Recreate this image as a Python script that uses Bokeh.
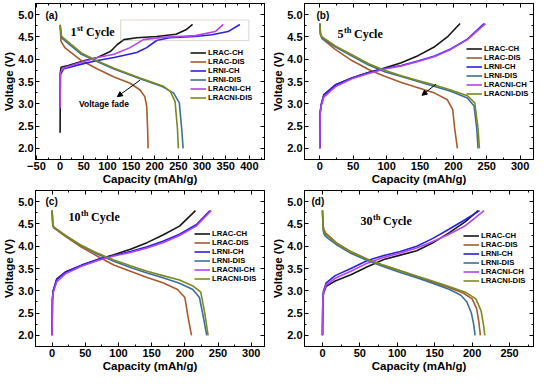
from bokeh.plotting import figure
from bokeh.layouts import gridplot
from bokeh.models import (Range1d, LinearAxis, SingleIntervalTicker, Legend, LegendItem,
                          Label, Arrow, NormalHead, PrintfTickFormatter, BoxAnnotation,
                          CustomJSTickFormatter)
from bokeh.embed import file_html
from bokeh.resources import INLINE

SERIES = ["LRAC-CH", "LRAC-DIS", "LRNI-CH", "LRNI-DIS", "LRACNI-CH", "LRACNI-DIS"]
COLORS = ["#161616", "#a85a2c", "#2c1fe0", "#3a6e9c", "#b044f2", "#7b8a1c"]

# ---- Panel (a): 1st cycle ----
a_LRAC_CH_x = [0, 0.5, 2, 17, 52, 79, 107, 121, 135, 162, 204, 245, 266, 280]
a_LRAC_CH_y = [2.35, 3.7, 3.82, 3.86, 3.97, 4.04, 4.18, 4.33, 4.44, 4.48, 4.51, 4.56, 4.66, 4.78]
a_LRAC_DIS_x = [0, 2, 10, 45, 79, 114, 148, 169, 179, 183, 185, 186]
a_LRAC_DIS_y = [4.77, 4.4, 4.26, 3.97, 3.78, 3.6, 3.46, 3.31, 3.16, 2.95, 2.44, 2.0]
a_LRNI_CH_x = [0, 0.5, 7, 45, 79, 114, 162, 183, 204, 231, 286, 321, 355, 380]
a_LRNI_CH_y = [2.9, 3.65, 3.78, 3.89, 3.97, 4.04, 4.15, 4.26, 4.42, 4.48, 4.51, 4.55, 4.62, 4.78]
a_LRNI_DIS_x = [0, 3, 45, 79, 114, 169, 217, 240, 252, 257, 260]
a_LRNI_DIS_y = [4.77, 4.48, 4.11, 3.94, 3.78, 3.56, 3.38, 3.24, 3.02, 2.44, 2.0]
a_LRACNI_CH_x = [0, 0.5, 7, 45, 79, 114, 148, 176, 217, 286, 328, 345]
a_LRACNI_CH_y = [2.9, 3.7, 3.8, 3.93, 4.04, 4.11, 4.26, 4.44, 4.49, 4.53, 4.62, 4.78]
a_LRACNI_DIS_x = [0, 3, 45, 79, 114, 169, 217, 233, 243, 248, 250]
a_LRACNI_DIS_y = [4.77, 4.51, 4.14, 3.96, 3.8, 3.58, 3.4, 3.28, 3.05, 2.44, 2.0]

# ---- Panel (b): 5th cycle ----
b_LRAC_CH_x = [0, 0.5, 2, 6, 23, 48, 73, 97, 122, 147, 172, 191, 210]
b_LRAC_CH_y = [2.0, 2.8, 2.98, 3.2, 3.42, 3.58, 3.7, 3.8, 3.92, 4.08, 4.28, 4.5, 4.8]
b_LRAC_DIS_x = [0, 1, 3.5, 23, 48, 73, 97, 122, 147, 172, 191, 199, 202, 206]
b_LRAC_DIS_y = [4.8, 4.55, 4.46, 4.22, 3.97, 3.77, 3.62, 3.48, 3.36, 3.24, 3.09, 2.87, 2.44, 2.0]
b_LRNI_CH_x = [0, 0.5, 2, 6, 23, 48, 73, 97, 122, 147, 172, 196, 221, 246]
b_LRNI_CH_y = [2.0, 2.8, 2.98, 3.2, 3.42, 3.58, 3.7, 3.79, 3.86, 3.96, 4.07, 4.23, 4.45, 4.8]
b_LRNI_DIS_x = [0, 1, 3.5, 23, 48, 73, 97, 122, 147, 172, 196, 221, 231, 235, 237]
b_LRNI_DIS_y = [4.8, 4.55, 4.47, 4.28, 4.07, 3.87, 3.72, 3.61, 3.5, 3.39, 3.28, 3.13, 2.95, 2.44, 2.0]
b_LRACNI_CH_x = [0, 0.5, 2, 6, 23, 48, 73, 97, 122, 147, 172, 196, 221, 248]
b_LRACNI_CH_y = [2.0, 2.8, 2.95, 3.15, 3.38, 3.56, 3.68, 3.78, 3.85, 3.95, 4.06, 4.22, 4.44, 4.8]
b_LRACNI_DIS_x = [0, 1, 3.5, 23, 48, 73, 97, 122, 147, 172, 196, 221, 232, 237, 239]
b_LRACNI_DIS_y = [4.8, 4.56, 4.5, 4.3, 4.1, 3.9, 3.75, 3.63, 3.52, 3.42, 3.31, 3.18, 3.02, 2.44, 2.0]

# ---- Panel (c): 10th cycle ----
c_LRAC_CH_x = [0, 0.5, 1.5, 7, 20, 44, 69, 93, 118, 143, 167, 192, 216]
c_LRAC_CH_y = [2.0, 2.8, 2.99, 3.26, 3.42, 3.57, 3.7, 3.81, 3.93, 4.08, 4.25, 4.45, 4.8]
c_LRAC_DIS_x = [0, 1, 2, 20, 44, 69, 93, 118, 143, 167, 189, 200, 205, 210]
c_LRAC_DIS_y = [4.8, 4.5, 4.42, 4.22, 3.98, 3.77, 3.58, 3.44, 3.3, 3.18, 3.03, 2.85, 2.4, 2.0]
c_LRNI_CH_x = [0, 0.5, 1.5, 7, 20, 44, 69, 93, 118, 143, 167, 192, 217, 238]
c_LRNI_CH_y = [2.0, 2.8, 2.99, 3.26, 3.42, 3.57, 3.7, 3.79, 3.88, 3.99, 4.11, 4.27, 4.48, 4.8]
c_LRNI_DIS_x = [0, 1, 2.5, 20, 44, 69, 93, 118, 143, 167, 192, 212, 222, 228, 233]
c_LRNI_DIS_y = [4.8, 4.5, 4.43, 4.24, 4.01, 3.82, 3.66, 3.52, 3.4, 3.29, 3.17, 3.03, 2.85, 2.4, 2.0]
c_LRACNI_CH_x = [0, 0.5, 1.5, 7, 20, 44, 69, 93, 118, 143, 167, 192, 217, 240]
c_LRACNI_CH_y = [2.0, 2.8, 2.95, 3.2, 3.38, 3.55, 3.68, 3.78, 3.86, 3.96, 4.08, 4.24, 4.45, 4.8]
c_LRACNI_DIS_x = [0, 1, 2.5, 20, 44, 69, 93, 118, 143, 167, 192, 213, 224, 230, 235]
c_LRACNI_DIS_y = [4.8, 4.5, 4.43, 4.24, 4.02, 3.84, 3.69, 3.56, 3.44, 3.34, 3.24, 3.1, 2.97, 2.5, 2.0]

# ---- Panel (d): 30th cycle ----
d_LRAC_CH_x = [0, 0.5, 1.5, 5, 17, 38, 60, 82, 104, 126, 147, 169, 191, 208]
d_LRAC_CH_y = [2.0, 2.8, 2.95, 3.1, 3.22, 3.36, 3.54, 3.7, 3.8, 3.9, 4.07, 4.3, 4.55, 4.8]
d_LRAC_DIS_x = [0, 1, 2, 4, 20, 38, 60, 82, 104, 126, 147, 170, 188, 200, 206, 209, 211]
d_LRAC_DIS_y = [4.8, 4.45, 4.38, 4.3, 4.06, 3.88, 3.71, 3.57, 3.45, 3.32, 3.2, 3.07, 2.95, 2.82, 2.6, 2.3, 2.0]
d_LRNI_CH_x = [0, 0.5, 1.5, 5, 17, 38, 60, 82, 104, 126, 147, 169, 191, 210]
d_LRNI_CH_y = [2.0, 2.85, 3.0, 3.18, 3.34, 3.5, 3.68, 3.79, 3.88, 4.0, 4.17, 4.38, 4.6, 4.8]
d_LRNI_DIS_x = [0, 1, 2, 4, 20, 38, 60, 82, 104, 126, 147, 170, 185, 193, 199, 202, 204]
d_LRNI_DIS_y = [4.8, 4.35, 4.28, 4.22, 4.02, 3.84, 3.68, 3.54, 3.41, 3.29, 3.17, 3.03, 2.9, 2.75, 2.5, 2.25, 2.0]
d_LRACNI_CH_x = [0, 0.5, 1.5, 5, 17, 38, 60, 82, 104, 126, 147, 169, 191, 216]
d_LRACNI_CH_y = [2.0, 2.8, 2.98, 3.13, 3.28, 3.44, 3.62, 3.75, 3.85, 3.96, 4.1, 4.27, 4.46, 4.8]
d_LRACNI_DIS_x = [0, 1, 2, 4, 20, 38, 60, 82, 104, 126, 147, 170, 192, 205, 212, 215, 217]
d_LRACNI_DIS_y = [4.8, 4.4, 4.33, 4.27, 4.05, 3.87, 3.71, 3.57, 3.45, 3.33, 3.22, 3.09, 2.96, 2.82, 2.55, 2.25, 2.0]

PANELS = [
    dict(tag="(a)", num="1", sup="st", xr=(-52, 432),
         data=[(a_LRAC_CH_x, a_LRAC_CH_y), (a_LRAC_DIS_x, a_LRAC_DIS_y), (a_LRNI_CH_x, a_LRNI_CH_y),
               (a_LRNI_DIS_x, a_LRNI_DIS_y), (a_LRACNI_CH_x, a_LRACNI_CH_y), (a_LRACNI_DIS_x, a_LRACNI_DIS_y)],
         tagx=10, tagy=12, cyclex=35, cycley=28, legx=155, legy=45),
    dict(tag="(b)", num="5", sup="th", xr=(-23, 320),
         data=[(b_LRAC_CH_x, b_LRAC_CH_y), (b_LRAC_DIS_x, b_LRAC_DIS_y), (b_LRNI_CH_x, b_LRNI_CH_y),
               (b_LRNI_DIS_x, b_LRNI_DIS_y), (b_LRACNI_CH_x, b_LRACNI_CH_y), (b_LRACNI_DIS_x, b_LRACNI_DIS_y)],
         tagx=12, tagy=12, cyclex=33, cycley=30, legx=162, legy=41),
    dict(tag="(c)", num="10", sup="th", xr=(-25, 320),
         data=[(c_LRAC_CH_x, c_LRAC_CH_y), (c_LRAC_DIS_x, c_LRAC_DIS_y), (c_LRNI_CH_x, c_LRNI_CH_y),
               (c_LRNI_DIS_x, c_LRNI_DIS_y), (c_LRACNI_CH_x, c_LRACNI_CH_y), (c_LRACNI_DIS_x, c_LRACNI_DIS_y)],
         tagx=10, tagy=11, cyclex=33, cycley=26, legx=159, legy=39),
    dict(tag="(d)", num="30", sup="th", xr=(-24, 282),
         data=[(d_LRAC_CH_x, d_LRAC_CH_y), (d_LRAC_DIS_x, d_LRAC_DIS_y), (d_LRNI_CH_x, d_LRNI_CH_y),
               (d_LRNI_DIS_x, d_LRNI_DIS_y), (d_LRACNI_CH_x, d_LRACNI_CH_y), (d_LRACNI_DIS_x, d_LRACNI_DIS_y)],
         tagx=7, tagy=11, cyclex=56, cycley=30, legx=159, legy=41),
]

# Annotations
BOX_A = dict(left=128, right=399, bottom=4.42, top=4.88)
ARROW_A = (169, 3.53, 121, 3.16)
FADE_TEXT_POS = (40, 2.99)
ARROW_B = (174, 3.44, 153, 3.19)

FW, FH = 229, 156
SANS = "Liberation Sans"
SERIF = "Liberation Serif"
LEG_H = 6 * 9


def style_axis(ax, labels=True):
    ax.axis_line_color = "black"
    ax.axis_line_width = 1
    ax.major_tick_in = 4
    ax.major_tick_out = 0
    ax.minor_tick_in = 2
    ax.minor_tick_out = 0
    ax.major_tick_line_color = "black"
    ax.minor_tick_line_color = "black"
    ax.major_label_text_font = SANS
    ax.major_label_text_font_style = "bold"
    ax.axis_label_text_font = SANS
    ax.axis_label_text_font_style = "bold"
    ax.axis_label_text_font_size = "11.5px"
    ax.axis_label_text_color = "black"
    ax.axis_label_standoff = 0
    if labels:
        ax.major_label_text_color = "black"
        ax.major_label_text_font_size = "11px"
        ax.major_label_standoff = 2
    else:
        ax.formatter = CustomJSTickFormatter(code="return ''")
        ax.major_label_text_color = None
        ax.major_label_text_font_size = "1px"
        ax.major_label_standoff = 0


def make_panel(cfg):
    p = figure(frame_width=FW, frame_height=FH, output_backend="svg", toolbar_location=None,
               x_range=Range1d(*cfg["xr"]), y_range=Range1d(1.75, 5.25),
               min_border_left=33, min_border_right=5, min_border_top=3, min_border_bottom=2)
    p.xgrid.visible = False
    p.ygrid.visible = False
    p.outline_line_color = "black"
    p.outline_line_width = 1
    p.background_fill_color = "white"
    p.border_fill_color = "white"

    p.xaxis.ticker = SingleIntervalTicker(interval=50, num_minor_ticks=2)
    p.yaxis.ticker = SingleIntervalTicker(interval=0.5, num_minor_ticks=2)
    p.yaxis.formatter = PrintfTickFormatter(format="%.1f")
    p.xaxis.axis_label = "Capacity (mAh/g)"
    p.yaxis.axis_label = "Voltage (V)"
    style_axis(p.xaxis[0])
    style_axis(p.yaxis[0])

    top = LinearAxis(ticker=SingleIntervalTicker(interval=50, num_minor_ticks=2))
    right = LinearAxis(ticker=SingleIntervalTicker(interval=0.5, num_minor_ticks=2))
    style_axis(top, labels=False)
    style_axis(right, labels=False)
    p.add_layout(top, "above")
    p.add_layout(right, "right")

    items = []
    for name, col, (xs, ys) in zip(SERIES, COLORS, cfg["data"]):
        r = p.line(xs, ys, line_color=col, line_width=1.6)
        items.append(LegendItem(label=name, renderers=[r]))

    leg = Legend(items=items, location=(cfg["legx"], FH - cfg["legy"] - LEG_H),
                 label_text_font=SANS, label_text_font_style="bold", label_text_font_size="7.7px",
                 label_text_color="black",
                 glyph_width=16, glyph_height=9, label_height=9, label_standoff=2,
                 spacing=0, padding=0, margin=0,
                 border_line_alpha=0, background_fill_alpha=0)
    p.add_layout(leg)

    p.add_layout(Label(x=cfg["tagx"], y=FH - cfg["tagy"], x_units="screen", y_units="screen",
                       text=cfg["tag"], text_font=SANS, text_font_style="bold",
                       text_font_size="10px", text_baseline="middle", text_color="black"))

    x0 = cfg["cyclex"]
    y0 = FH - cfg["cycley"]
    numw = 6.0 * len(cfg["num"])
    supw = 6.5 if cfg["sup"] == "st" else 7.6
    p.add_layout(Label(x=x0, y=y0, x_units="screen", y_units="screen", text=cfg["num"],
                       text_font=SERIF, text_font_style="bold", text_font_size="12px",
                       text_baseline="middle", text_color="black"))
    p.add_layout(Label(x=x0 + numw + 0.5, y=y0 + 4, x_units="screen", y_units="screen", text=cfg["sup"],
                       text_font=SERIF, text_font_style="bold", text_font_size="8.5px",
                       text_baseline="middle", text_color="black"))
    p.add_layout(Label(x=x0 + numw + supw + 3, y=y0, x_units="screen", y_units="screen", text="Cycle",
                       text_font=SERIF, text_font_style="bold", text_font_size="12px",
                       text_baseline="middle", text_color="black"))
    return p


figs = [make_panel(c) for c in PANELS]
pa, pb, pc, pd = figs

pa.add_layout(BoxAnnotation(left=BOX_A["left"], right=BOX_A["right"], bottom=BOX_A["bottom"], top=BOX_A["top"],
                            fill_alpha=0, line_color="#a0806e", line_width=1.2))
pa.add_layout(Arrow(x_start=ARROW_A[0], y_start=ARROW_A[1], x_end=ARROW_A[2], y_end=ARROW_A[3],
                    line_color="black", line_width=1,
                    end=NormalHead(size=5, fill_color="black", line_color="black")))
pa.add_layout(Label(x=FADE_TEXT_POS[0], y=FADE_TEXT_POS[1], text="Voltage fade", text_font=SANS,
                    text_font_style="bold", text_font_size="8.5px", text_baseline="middle",
                    text_color="black"))
pb.add_layout(Arrow(x_start=ARROW_B[0], y_start=ARROW_B[1], x_end=ARROW_B[2], y_end=ARROW_B[3],
                    line_color="black", line_width=1,
                    end=NormalHead(size=5, fill_color="black", line_color="black")))

grid = gridplot([[pa, pb], [pc, pd]], toolbar_location=None)

with open("out.html", "w") as f:
    f.write(file_html(grid, INLINE))
